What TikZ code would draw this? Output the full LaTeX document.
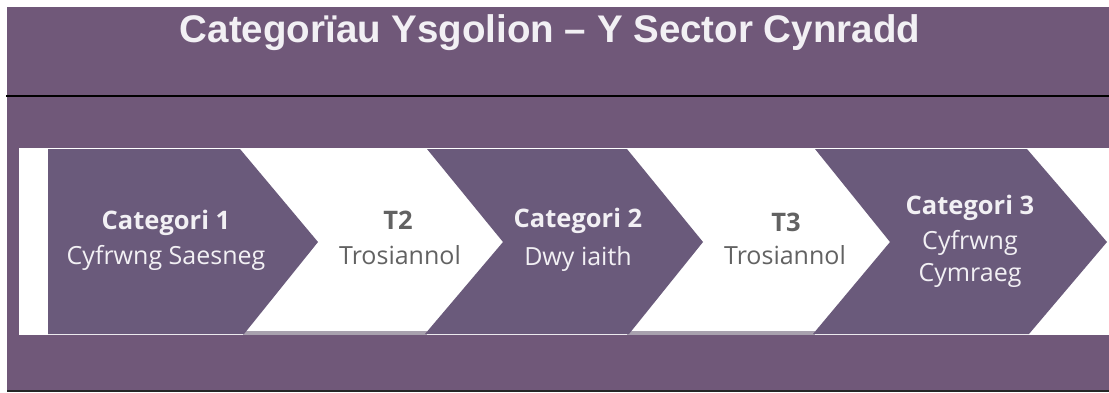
\documentclass[tikz,border=0pt]{standalone}
\usepackage{fontspec}
\setmainfont{Open Sans}
\newfontfamily\titlefont{Liberation Sans}
\definecolor{bgpurple}{HTML}{705879}
\definecolor{chevpurple}{HTML}{6A5A7B}
\definecolor{greytext}{HTML}{626262}
\definecolor{offwhite}{HTML}{F2F0F4}
\definecolor{shadowgrey}{HTML}{A8A1AE}
\tikzset{
  chev/.style={fill=chevpurple, draw=none},
  headtxt/.style={text=offwhite, font=\fontsize{25.5}{30}\selectfont\bfseries, inner sep=0pt, anchor=base},
  subtxt/.style={text=offwhite, font=\fontsize{25}{28}\selectfont, inner sep=0pt, anchor=base},
  gheadtxt/.style={text=greytext, font=\fontsize{25.5}{30}\selectfont\bfseries, inner sep=0pt, anchor=base},
  gsubtxt/.style={text=greytext, font=\fontsize{25}{28}\selectfont, inner sep=0pt, anchor=base},
}
\begin{document}
\begin{tikzpicture}[x=1pt,y=-1pt]
\useasboundingbox (0,0) rectangle (1109,392);
\fill[white] (0,0) rectangle (1109,392);
\fill[bgpurple] (7,7) rectangle (1109,390);
\fill[black!85] (7,390) rectangle (1109,392);
\draw[black, line width=2pt] (6,96) -- (1109,96);
\node[text=offwhite, font=\titlefont\fontsize{38.5}{42}\selectfont\bfseries, inner sep=0pt, anchor=base] (title) at (550,42) {Categorïau Ysgolion – Y Sector Cynradd};
% white band
\fill[white] (19,148) rectangle (1109,335);
\fill[shadowgrey] (243,331) rectangle (427,335);
\fill[shadowgrey] (627,331) rectangle (815,335);
% chevrons
\fill[chev] (48,149) -- (240,149) -- (318,242) -- (244,334) -- (48,334) -- cycle;
\fill[chev] (427,149) -- (627,149) -- (703,242) -- (629,334) -- (425,334) -- (503,242) -- cycle;
\fill[chev] (815,149) -- (1027,149) -- (1107,242) -- (1029,334) -- (813,334) -- (890,242) -- cycle;
% texts
\node[headtxt] (c1h) at (166,229) {Categori 1};
\node[subtxt] (c1s) at (166,264) {Cyfrwng Saesneg};
\node[gheadtxt] (t2h) at (398,229) {T2};
\node[gsubtxt] (t2s) at (400,264) {Trosiannol};
\node[headtxt] (c2h) at (578,227) {Categori 2};
\node[subtxt] (c2s) at (578,265) {Dwy iaith};
\node[gheadtxt] (t3h) at (786,231) {T3};
\node[gsubtxt] (t3s) at (785,264) {Trosiannol};
\node[headtxt] (c3h) at (970,214) {Categori 3};
\node[subtxt] (c3s) at (970,249) {Cyfrwng};
\node[subtxt] (c3t) at (970,281) {Cymraeg};
\end{tikzpicture}
\end{document}
